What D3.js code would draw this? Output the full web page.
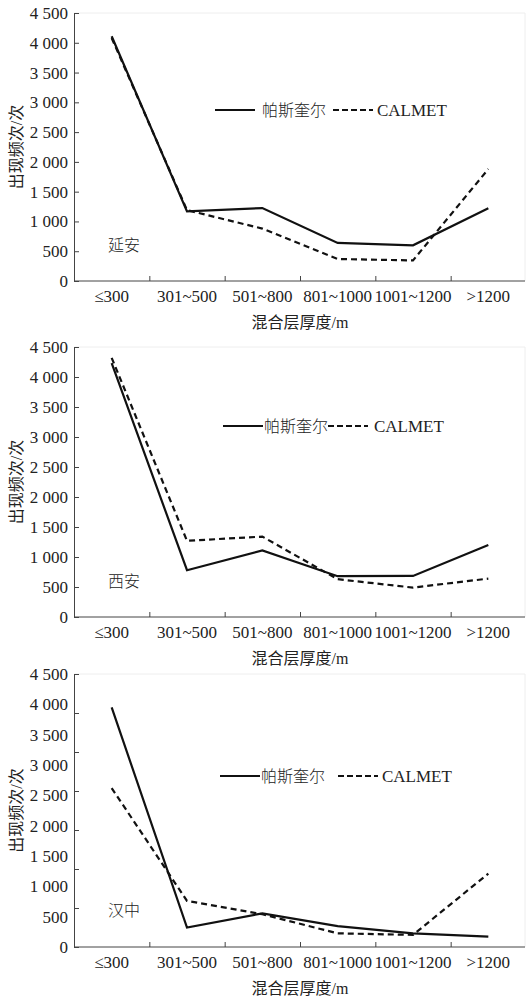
<!DOCTYPE html>
<html>
<head>
<meta charset="utf-8">
<script src="https://cdn.jsdelivr.net/npm/d3@7"></script>
<style>
  body { margin: 0; background: #fff; }
  text { font-family: "Liberation Serif", "Noto Sans CJK SC", serif; fill: #222; }
</style>
</head>
<body>
<div id="chart"></div>
<script>
// ---- data ----
const categories = ["≤300", "301~500", "501~800", "801~1000", "1001~1200", ">1200"];
const yTicks = [0, 500, 1000, 1500, 2000, 2500, 3000, 3500, 4000, 4500];
const seriesNames = ["帕斯奎尔", "CALMET"];
const cities = ["延安", "西安", "汉中"];

const yananPasquill = [4110, 1170, 1225, 640, 600, 1220];
const yananCalmet   = [4080, 1190, 880, 370, 345, 1880];
const xianPasquill  = [4230, 780, 1110, 680, 685, 1200];
const xianCalmet    = [4320, 1270, 1340, 630, 490, 640];
const hanzhongPasquill = [3950, 320, 555, 345, 225, 170];
const hanzhongCalmet   = [2620, 760, 540, 225, 200, 1210];

const svg = d3.select("#chart").append("svg")
  .attr("width", 529).attr("height", 999);

const fmt = v => d3.format(",")(v).replace(",", " ");

const panels = [
  { city: cities[0], a: yananPasquill, b: yananCalmet, top: 13, bottom: 281,
    leg: { y: 97, l1: 215, t1: 262, l2: 333, t2: 377 } },
  { city: cities[1], a: xianPasquill, b: xianCalmet, top: 347, bottom: 617,
    leg: { y: 79, l1: 223, t1: 264, l2: 328, t2: 374 } },
  { city: cities[2], a: hanzhongPasquill, b: hanzhongCalmet, top: 674, bottom: 947,
    leg: { y: 102, l1: 220, t1: 261, l2: 338, t2: 382 }, oddTicks: true }
];

const left = 74, right = 525;

panels.forEach(p => {
  const g = svg.append("g");
  const x = d3.scaleBand().domain(categories).range([left, 526]);
  const xEdge = d3.scaleLinear().domain([0, 6]).range([left, 526]);
  const y = d3.scaleLinear().domain([0, 4500]).range([p.bottom, p.top]);

  // faint frame
  g.append("path")
    .attr("d", `M${left},${p.top}H${right}V${p.bottom}`)
    .attr("fill", "none").attr("stroke", "#eee");

  // y axis
  if (!p.oddTicks) {
    g.append("g").attr("transform", `translate(${left},0)`)
      .call(d3.axisLeft(y).tickValues(yTicks).tickSize(-5).tickPadding(6).tickFormat(fmt))
      .call(a => a.select(".domain").attr("stroke", "#444"))
      .call(a => a.selectAll("line").attr("stroke", "#444"))
      .call(a => a.selectAll("text").attr("font-size", 17).attr("font-family", "Liberation Serif"));
  } else {
    // this panel's tick marks do not line up with its labels
    g.append("g").attr("transform", `translate(${left},0)`)
      .call(d3.axisLeft(y).tickValues(d3.range(8).map(i => i * 4500 / 7)).tickSize(-5).tickFormat(""))
      .call(a => a.select(".domain").attr("stroke", "#444"))
      .call(a => a.selectAll("line").attr("stroke", "#444"));
    g.append("g").attr("transform", `translate(${left},0)`)
      .call(d3.axisLeft(y).tickValues(yTicks).tickSize(0).tickPadding(6).tickFormat(fmt))
      .call(a => a.select(".domain").remove())
      .call(a => a.selectAll("text").attr("font-size", 17).attr("font-family", "Liberation Serif"));
  }

  // x axis
  g.append("g").attr("transform", `translate(0,${p.bottom})`)
    .call(d3.axisBottom(xEdge).tickValues([1, 2, 3, 4, 5]).tickSize(-5).tickFormat(""))
    .call(a => a.select(".domain").attr("d", `M${left},0H${right}`).attr("stroke", "#444"))
    .call(a => a.selectAll("line").attr("stroke", "#444"));
  g.append("g").attr("transform", `translate(0,${p.bottom})`)
    .call(d3.axisBottom(x).tickSize(0).tickPadding(9))
    .call(a => a.select(".domain").remove())
    .call(a => a.selectAll("text").attr("font-size", 17).attr("font-family", "Liberation Serif"));

  // titles
  g.append("text")
    .attr("transform", `translate(16,${(p.top + p.bottom) / 2}) rotate(-90)`)
    .attr("text-anchor", "middle").attr("dy", "0.35em")
    .attr("font-size", 16).text("出现频次/次");
  g.append("text")
    .attr("x", 300).attr("y", p.bottom + 41).attr("dy", "0.35em")
    .attr("text-anchor", "middle").attr("font-size", 16).text("混合层厚度/m");

  // city label
  g.append("text").attr("x", 108).attr("y", y(600))
    .attr("dy", "0.35em").attr("font-size", 16).attr("font-family", "Noto Sans CJK SC")
    .attr("font-weight", 300).text(p.city);

  // lines
  const line = d3.line().x((d, i) => x(categories[i]) + x.bandwidth() / 2).y(d => y(d));
  g.append("path").datum(p.a).attr("d", line)
    .attr("fill", "none").attr("stroke", "#111").attr("stroke-width", 2.2);
  g.append("path").datum(p.b).attr("d", line)
    .attr("fill", "none").attr("stroke", "#111").attr("stroke-width", 2.2)
    .attr("stroke-dasharray", "6,4");

  // legend
  const ly = p.top + p.leg.y;
  g.append("line").attr("x1", p.leg.l1).attr("x2", p.leg.l1 + 40).attr("y1", ly).attr("y2", ly)
    .attr("stroke", "#111").attr("stroke-width", 2.2);
  g.append("text").attr("x", p.leg.t1).attr("y", ly).attr("dy", "0.35em")
    .attr("font-size", 16).attr("font-family", "Noto Sans CJK SC").attr("font-weight", 300)
    .text(seriesNames[0]);
  g.append("line").attr("x1", p.leg.l2).attr("x2", p.leg.l2 + 40).attr("y1", ly).attr("y2", ly)
    .attr("stroke", "#111").attr("stroke-width", 2.2).attr("stroke-dasharray", "6,3");
  g.append("text").attr("x", p.leg.t2).attr("y", ly).attr("dy", "0.35em")
    .attr("font-size", 17).attr("font-family", "Liberation Serif").text(seriesNames[1]);
});
</script>
</body>
</html>
